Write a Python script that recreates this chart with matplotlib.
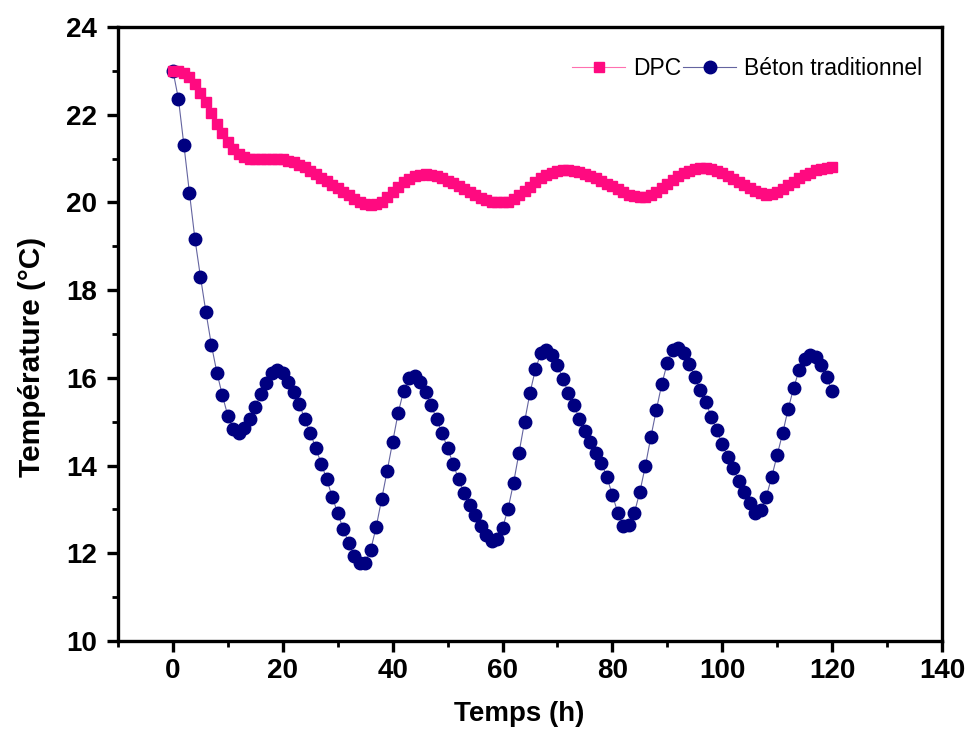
import numpy as np
import matplotlib
matplotlib.use("Agg")
import matplotlib.pyplot as plt
from matplotlib.ticker import MultipleLocator

# Hourly measurements, 0 .. 120 h
temps_h = list(range(0, 121))

dpc = [
    23.0, 23.0, 22.95, 22.85, 22.7, 22.5, 22.28, 22.05, 21.8, 21.58, 21.38, 21.22, 21.1, 21.03,
    21.0, 20.98, 20.98, 20.98, 21.0, 21.0, 20.98, 20.95, 20.92,
    20.86, 20.8, 20.72, 20.64, 20.56, 20.48, 20.4, 20.32, 20.24, 20.16, 20.08, 20.02, 19.97, 19.95, 19.96,
    20.02, 20.12, 20.24, 20.36, 20.46, 20.54, 20.6, 20.63, 20.64, 20.63,
    20.6, 20.56, 20.5, 20.44, 20.38, 20.31, 20.24, 20.17, 20.11, 20.06, 20.02, 20.0, 20.0,
    20.02, 20.08, 20.16, 20.26, 20.36, 20.46, 20.55, 20.62, 20.68, 20.72, 20.74, 20.74,
    20.72, 20.69, 20.65, 20.6, 20.55, 20.49, 20.43, 20.37, 20.3, 20.24, 20.18, 20.14, 20.12, 20.13,
    20.17, 20.24, 20.33, 20.43, 20.52, 20.6, 20.67, 20.72, 20.76, 20.78,
    20.78, 20.76, 20.72, 20.67, 20.61, 20.54, 20.47, 20.4, 20.33, 20.26, 20.21, 20.18,
    20.19, 20.24, 20.31, 20.39, 20.47, 20.55, 20.62, 20.68, 20.73, 20.77, 20.79, 20.8,
]

beton = [
    23.0, 22.36, 21.3, 20.22, 19.17, 18.31, 17.5, 16.75, 16.12, 15.6,
    15.13, 14.83, 14.74, 14.85, 15.06, 15.34, 15.63, 15.88, 16.11, 16.18,
    16.11, 15.91, 15.68, 15.40, 15.06, 14.74, 14.40, 14.04, 13.69, 13.28,
    12.92, 12.55, 12.24, 11.94, 11.78, 11.78, 12.08, 12.6, 13.24, 13.88,
    14.54, 15.2, 15.71, 16.0, 16.05, 15.91, 15.68, 15.38, 15.06, 14.74,
    14.4, 14.04, 13.69, 13.38, 13.10, 12.87, 12.62, 12.42, 12.28, 12.33,
    12.58, 13.01, 13.6, 14.29, 14.99, 15.66, 16.2, 16.57, 16.64, 16.52,
    16.29, 15.97, 15.66, 15.38, 15.06, 14.79, 14.54, 14.29, 14.06, 13.74,
    13.33, 12.92, 12.62, 12.65, 12.92, 13.4, 13.99, 14.65, 15.27, 15.86,
    16.34, 16.64, 16.68, 16.57, 16.32, 16.02, 15.72, 15.45, 15.11, 14.81,
    14.49, 14.2, 13.95, 13.65, 13.4, 13.15, 12.92, 12.99, 13.28, 13.74,
    14.24, 14.74, 15.29, 15.77, 16.18, 16.43, 16.52, 16.48, 16.29, 16.02,
    15.7,
]

xticks = [0, 20, 40, 60, 80, 100, 120, 140]
yticks = [10, 12, 14, 16, 18, 20, 22, 24]

pink = "#FF0A80"
navy = "#000080"

fig = plt.figure(figsize=(9.73, 7.51), dpi=100)
ax = fig.add_axes([0.1213, 0.1465, 0.8468, 0.8175])

ax.plot(temps_h, beton, color="#6464a0", lw=0.8, marker="o", ms=9,
        mfc=navy, mec=navy, label="Béton traditionnel", zorder=3)
ax.plot(temps_h, dpc, color="#ff70b0", lw=0.8, marker="s", ms=7.2,
        mfc=pink, mec=pink, label="DPC", zorder=4)

ax.set_xlim(-10, 140)
ax.set_ylim(10, 24)
ax.set_xticks(xticks)
ax.set_yticks(yticks)
ax.xaxis.set_minor_locator(MultipleLocator(10))
ax.yaxis.set_minor_locator(MultipleLocator(1))

for s in ax.spines.values():
    s.set_linewidth(2.4)

ax.tick_params(which="major", direction="out", length=8, width=2.4)
ax.tick_params(which="minor", direction="out", length=4, width=2.0)
ax.tick_params(axis="y", which="major", pad=7)
ax.tick_params(axis="x", which="major", pad=4)
ax.tick_params(top=False, right=False, which="both")

tickfont = ["Liberation Sans", "DejaVu Sans"]
for lab in ax.get_xticklabels() + ax.get_yticklabels():
    lab.set_family(tickfont)
    lab.set_fontweight("bold")
    lab.set_fontsize(20)

ax.set_xlabel("Temps (h)", family=tickfont, fontweight="bold", fontsize=20)
ax.xaxis.set_label_coords(0.487, -0.098)
ax.set_ylabel("Température (°C)", family=tickfont, fontweight="bold", fontsize=21.5)
ax.yaxis.set_label_coords(-0.088, 0.4625)

handles, labels = ax.get_legend_handles_labels()
leg = ax.legend(handles[::-1], labels[::-1], loc="center right", ncol=2,
                frameon=False, prop={"family": "Liberation Sans", "size": 16.5},
                handlelength=2.3, handletextpad=0.35, columnspacing=0.1,
                borderaxespad=0, borderpad=0,
                bbox_to_anchor=(0.976, 0.932))

fig.savefig("out.png", dpi=100)
